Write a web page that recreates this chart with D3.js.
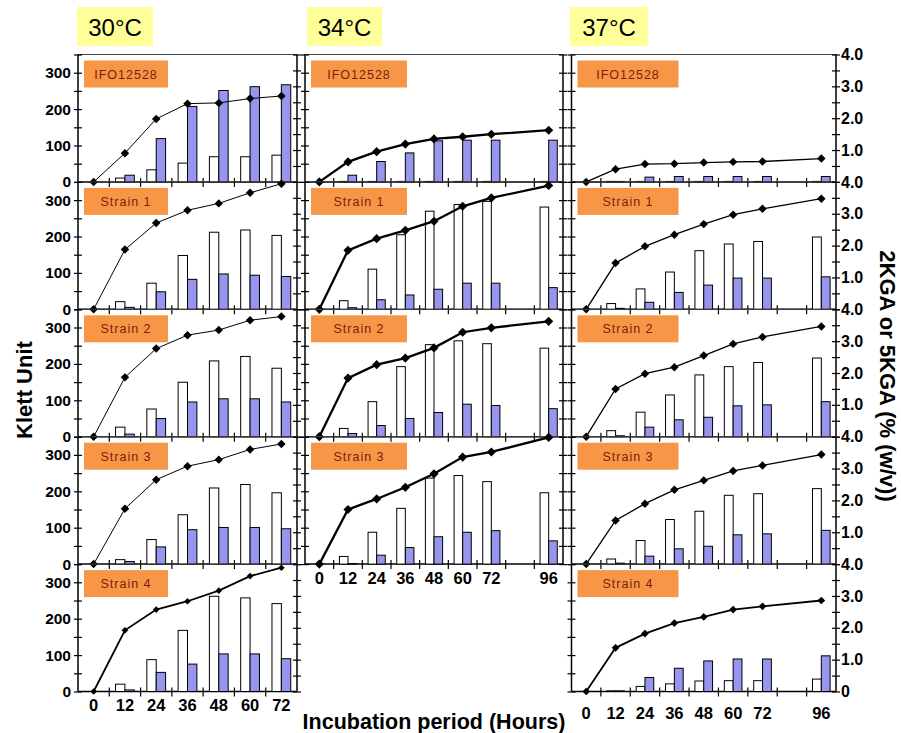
<!DOCTYPE html>
<html>
<head>
<meta charset="utf-8">
<script src="https://d3js.org/d3.v7.min.js"></script>
<style>
  body { margin: 0; background: #fff; }
  svg { font-family: "Liberation Sans", Arial, sans-serif; }
</style>
</head>
<body>
<div id="chart"></div>
<script>
// ---- data ----
var strains = ["IFO12528", "Strain 1", "Strain 2", "Strain 3", "Strain 4"];
var temps = ["30°C", "34°C", "37°C"];
var hours30 = [0, 12, 24, 36, 48, 60, 72];
var hoursBand = [0, 12, 24, 36, 48, 60, 72, 84, 96];
var hoursLong = [0, 12, 24, 36, 48, 60, 72, 96];
var klettTicks = [0, 50, 100, 150, 200, 250, 300, 350];
var pctTicks = [0, 0.5, 1, 1.5, 2, 2.5, 3, 3.5, 4];

// Klett unit (line), one array per strain
var klett30 = [
  [0, 79, 173, 215, 217, 229, 236],
  [0, 164, 237, 272, 291, 320, 345],
  [0, 163, 242, 279, 293, 320, 330],
  [0, 152, 232, 269, 287, 315, 330],
  [0, 168, 225, 248, 277, 317, 340]
];
var klett34 = [
  [0, 55, 83, 104, 118, 124, 131, 142],
  [0, 162, 194, 217, 242, 283, 306, 340],
  [0, 161, 198, 216, 244, 287, 299, 317],
  [0, 150, 179, 211, 248, 294, 308, 348]
];
var klett37 = [
  [0, 35, 49, 50, 53, 55, 56, 64],
  [0, 127, 173, 205, 234, 260, 276, 304],
  [0, 131, 173, 191, 223, 255, 274, 303],
  [0, 120, 166, 204, 230, 256, 271, 301],
  [0, 120, 159, 188, 205, 225, 234, 250]
];

// 2KGA % (white bars)
var kga2_30 = [
  [null, 0.12, 0.38, 0.59, 0.79, 0.79, 0.84],
  [null, 0.24, 0.82, 1.69, 2.42, 2.49, 2.32],
  [null, 0.30, 0.87, 1.71, 2.38, 2.52, 2.15],
  [null, 0.14, 0.77, 1.55, 2.39, 2.50, 2.24],
  [null, 0.23, 1.00, 1.92, 2.99, 2.94, 2.76]
];
var kga2_34 = [
  [null, 0, 0, 0, 0, 0, 0, 0],
  [null, 0.27, 1.26, 2.34, 3.08, 3.29, 3.39, 3.21],
  [null, 0.26, 1.10, 2.20, 2.89, 3.01, 2.92, 2.78],
  [null, 0.24, 1.00, 1.75, 2.70, 2.78, 2.59, 2.24]
];
var kga2_37 = [
  [null, 0, 0, 0, 0, 0, 0, 0],
  [null, 0.18, 0.64, 1.17, 1.84, 2.05, 2.13, 2.27],
  [null, 0.19, 0.77, 1.31, 1.94, 2.20, 2.33, 2.47],
  [null, 0.16, 0.74, 1.40, 1.66, 2.16, 2.21, 2.37],
  [null, 0.02, 0.16, 0.24, 0.33, 0.34, 0.34, 0.39]
];

// 5KGA % (blue bars)
var kga5_30 = [
  [null, 0.21, 1.36, 2.37, 2.87, 2.99, 3.05],
  [null, 0.06, 0.55, 0.94, 1.11, 1.07, 1.03],
  [null, 0.08, 0.57, 1.09, 1.19, 1.19, 1.09],
  [null, 0.08, 0.54, 1.08, 1.15, 1.15, 1.11],
  [null, 0.05, 0.60, 0.86, 1.18, 1.18, 1.03]
];
var kga5_34 = [
  [null, 0.21, 0.64, 0.91, 1.29, 1.31, 1.31, 1.31],
  [null, 0.05, 0.30, 0.45, 0.63, 0.82, 0.82, 0.68],
  [null, 0.10, 0.35, 0.57, 0.76, 1.02, 0.98, 0.88],
  [null, 0, 0.28, 0.52, 0.86, 1.00, 1.05, 0.73]
];
var kga5_37 = [
  [null, 0, 0.15, 0.17, 0.17, 0.17, 0.17, 0.17],
  [null, 0.03, 0.22, 0.53, 0.76, 0.98, 0.98, 1.02],
  [null, 0.03, 0.30, 0.53, 0.61, 0.97, 1.00, 1.10],
  [null, 0.03, 0.25, 0.48, 0.56, 0.92, 0.95, 1.06],
  [null, 0.02, 0.44, 0.73, 0.96, 1.02, 1.02, 1.12]
];

// ---- layout ----
var width = 901, height = 733;
var top0 = 54.5, rowH = 127.4;
var blue = "#9696ee", orange = "#f79646", yellow = "#ffff99";

var cols = [
  { title: temps[0], x0: 78, x1: 297, band: hours30, xs: hours30, klett: klett30, w: kga2_30, b: kga5_30,
    left: "labels", right: "pct", lineW: [1, 1, 1, 1, 1.8], mark: [36, 36, 36, 36, 22], boxW: 84, labelY: 711,
    tx: 77, tw: 76 },
  { title: temps[1], x0: 305, x1: 563, band: hoursBand, xs: hoursLong, klett: klett34, w: kga2_34, b: kga5_34,
    left: "klett", right: "klett", lineW: [2.3, 2.3, 2.3, 2.3], mark: [42, 42, 42, 42], boxW: 96, labelY: 584,
    tx: 307, tw: 75 },
  { title: temps[2], x0: 571.5, x1: 836, band: hoursBand, xs: hoursLong, klett: klett37, w: kga2_37, b: kga5_37,
    left: "klett", right: "pctLabels", lineW: [1.3, 1.3, 1.3, 1.3, 1.8], mark: [36, 36, 36, 36, 30], boxW: 101, labelY: 719,
    tx: 570, tw: 78 }
];

var svg = d3.select("#chart").append("svg")
  .attr("width", width)
  .attr("height", height);

function vAxis(g, scale, x, values, side, fmt, size) {
  var ax = (side == "left" ? d3.axisLeft(scale) : d3.axisRight(scale))
    .tickValues(values).tickSize(4).tickPadding(side == "left" ? 3 : 1).tickFormat(fmt);
  var ag = g.append("g").attr("transform", "translate(" + x + ",0)").call(ax);
  ag.attr("font-family", null).attr("font-size", size || 15);
  ag.select(".domain").remove();
  ag.selectAll(".tick line").attr("x1", side == "left" ? 4 : -4)
    .attr("stroke", "#000").attr("stroke-width", 1.2);
  ag.selectAll(".tick text").attr("font-weight", "bold").attr("fill", "#000");
}

cols.forEach(function (c, ci) {
  // temperature title
  svg.append("rect").attr("x", c.tx).attr("y", 7).attr("width", c.tw).attr("height", 39)
    .attr("fill", yellow);
  svg.append("text").attr("x", c.tx + c.tw / 2).attr("y", 36).attr("text-anchor", "middle")
    .attr("font-size", 24).attr("fill", "#000").text(c.title);

  var x = d3.scaleBand().domain(c.band).range([c.x0, c.x1]);
  var bw = x.bandwidth();

  c.klett.forEach(function (kl, r) {
    var top = top0 + r * rowH, bottom = top + rowH;
    var last = (r == c.klett.length - 1);
    var yL = d3.scaleLinear().domain([0, 350]).range([bottom, top]);
    var yR = d3.scaleLinear().domain([0, 4]).range([bottom, top]);
    var g = svg.append("g");

    // frame
    g.append("line").attr("x1", c.x0).attr("x2", c.x1).attr("y1", top).attr("y2", top)
      .attr("stroke", "#444").attr("stroke-width", 1);
    g.append("line").attr("x1", c.x0).attr("x2", c.x1).attr("y1", bottom).attr("y2", bottom)
      .attr("stroke", "#000").attr("stroke-width", 1.5);
    [c.x0, c.x1].forEach(function (xx) {
      g.append("line").attr("x1", xx).attr("x2", xx).attr("y1", top).attr("y2", bottom)
        .attr("stroke", "#000").attr("stroke-width", 1.5);
    });

    // x ticks between categories
    c.band.slice(1).forEach(function (h) {
      g.append("line").attr("x1", x(h)).attr("x2", x(h)).attr("y1", bottom - 4).attr("y2", bottom + 5)
        .attr("stroke", "#000").attr("stroke-width", 1.2);
    });

    // left axis
    if (c.left == "labels") {
      vAxis(g, yL, c.x0, klettTicks, "left", function (d) { return d % 100 == 0 && d < 350 ? d : ""; }, 15.5);
    } else {
      vAxis(g, yL, c.x0, klettTicks, "left", function () { return ""; });
    }
    // right axis
    if (c.right == "klett") {
      vAxis(g, yL, c.x1, klettTicks, "right", function () { return ""; });
    } else if (c.right == "pct") {
      vAxis(g, yR, c.x1, pctTicks, "right", function () { return ""; });
    } else {
      vAxis(g, yR, c.x1, pctTicks, "right", function (d) {
        if (d == 0) return last ? "0" : "";
        return d % 1 == 0 ? d3.format(".1f")(d) : "";
      }, 16);
    }

    // bars
    c.xs.forEach(function (h, i) {
      var cx = x(h) + bw / 2;
      var wv = c.w[r][i], bv = c.b[r][i];
      if (wv != null) {
        g.append("rect").attr("x", cx - bw * 0.3).attr("width", bw * 0.3)
          .attr("y", Math.min(yR(wv), bottom - 0.5)).attr("height", Math.max(0.5, bottom - yR(wv)))
          .attr("fill", "#fff").attr("stroke", "#000").attr("stroke-width", 1);
      }
      if (bv != null) {
        g.append("rect").attr("x", cx).attr("width", bw * 0.3)
          .attr("y", Math.min(yR(bv), bottom - 0.5)).attr("height", Math.max(0.5, bottom - yR(bv)))
          .attr("fill", blue).attr("stroke", "#000").attr("stroke-width", 1);
      }
    });

    // Klett line
    var pts = c.xs.map(function (h, i) { return [x(h) + bw / 2, yL(kl[i])]; });
    g.append("path").attr("d", d3.line()(pts)).attr("fill", "none")
      .attr("stroke", "#000").attr("stroke-width", c.lineW[r]);
    g.selectAll(".mk").data(pts).enter().append("path")
      .attr("d", d3.symbol(d3.symbolSquare, c.mark[r])())
      .attr("transform", function (p) { return "translate(" + p[0] + "," + p[1] + ") rotate(45)"; })
      .attr("fill", "#000");

    // strain label
    g.append("rect").attr("x", c.x0 + 6).attr("y", top + 6).attr("width", c.boxW).attr("height", 27)
      .attr("fill", orange);
    g.append("text").attr("x", c.x0 + 6 + c.boxW / 2).attr("y", top + 24).attr("text-anchor", "middle")
      .attr("font-size", 12.5).attr("letter-spacing", 1).attr("fill", "#7a1e10").text(strains[r]);

    // x tick labels under the bottom panel of the column
    if (last) {
      c.xs.forEach(function (h) {
        g.append("text").attr("x", x(h) + bw / 2).attr("y", c.labelY).attr("text-anchor", "middle")
          .attr("font-size", 16.5).attr("font-weight", "bold").attr("fill", "#000").text(h);
      });
    }
  });
});

// axis titles
svg.append("text").attr("transform", "translate(32,390) rotate(-90)").attr("text-anchor", "middle")
  .attr("font-size", 22).attr("font-weight", "bold").text("Klett Unit");
svg.append("text").attr("transform", "translate(880,376) rotate(90)").attr("text-anchor", "middle")
  .attr("font-size", 22).attr("font-weight", "bold").text("2KGA or 5KGA (% (w/v))");
svg.append("text").attr("x", 434).attr("y", 729).attr("text-anchor", "middle")
  .attr("font-size", 21.5).attr("font-weight", "bold").text("Incubation period (Hours)");
</script>
</body>
</html>
